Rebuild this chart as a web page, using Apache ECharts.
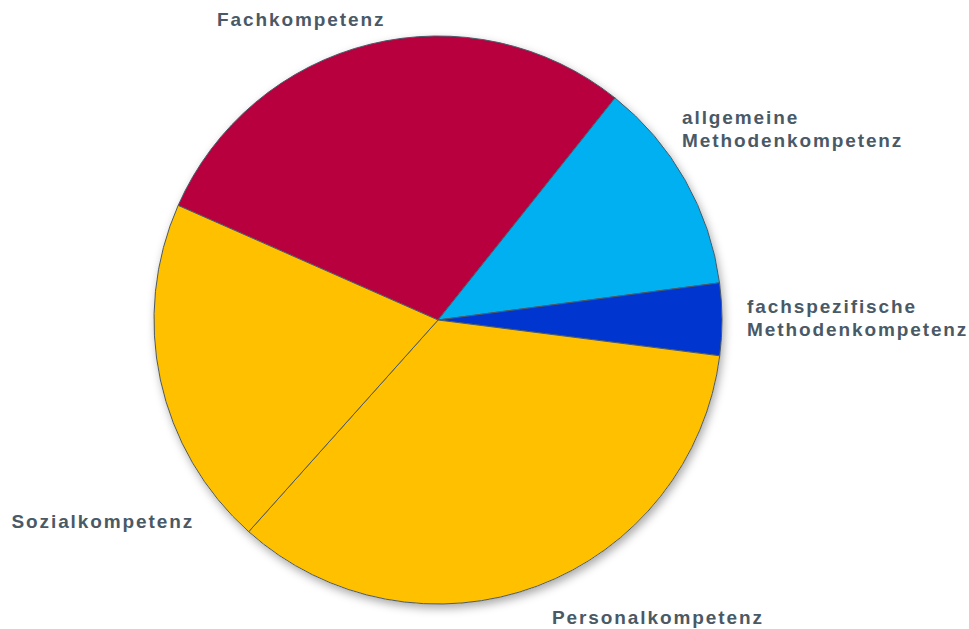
<!DOCTYPE html>
<html>
<head>
<meta charset="utf-8">
<script src="https://cdn.jsdelivr.net/npm/echarts@6/dist/echarts.min.js"></script>
<style>
html,body{margin:0;padding:0;background:#fff;}
#c{width:969px;height:629px;}
#c text{letter-spacing:1.9px;}
</style>
</head>
<body>
<div id="c"></div>
<script>
const categories = ['Fachkompetenz', 'allgemeine\nMethodenkompetenz', 'fachspezifische\nMethodenkompetenz', 'Personalkompetenz', 'Sozialkompetenz'];
const values = [29.1, 12.2, 4.1, 34.6, 20.0];
const colors = ['#B8003F', '#00B0F0', '#0036CF', '#FFC000', '#FFC000'];

const labelSpots = [
  {x: 217, y: 19.5},
  {x: 682, y: 129},
  {x: 747, y: 318},
  {x: 552, y: 617},
  {x: 11.5, y: 521.5}
];

const chart = echarts.init(document.getElementById('c'), null, {renderer: 'svg'});
chart.setOption({
  animation: false,
  series: [
    {
      type: 'pie',
      silent: true,
      center: [438, 320],
      radius: [0, 284],
      label: {show: false},
      labelLine: {show: false},
      itemStyle: {color: '#ffffff', shadowBlur: 10, shadowOffsetX: 2, shadowOffsetY: 4, shadowColor: 'rgba(0,0,0,0.35)'},
      data: [{value: 1, name: ''}],
      z: 1
    },
    {
      type: 'pie',
      center: [438, 320],
      radius: [0, 284],
      startAngle: 156.2,
      clockwise: true,
      z: 2,
      itemStyle: {borderColor: '#4B5A68', borderWidth: 1},
      label: {
        show: true,
        position: 'outside',
        fontFamily: 'Liberation Sans, Arial, sans-serif',
        fontWeight: 'bold',
        fontSize: 19,
        lineHeight: 23,
        color: '#4A5966',
        align: 'left',
        overflow: 'none'
      },
      labelLine: {show: false},
      labelLayout: function (p) {
        const s = labelSpots[p.dataIndex];
        return {x: s.x, y: s.y, align: 'left', verticalAlign: 'middle'};
      },
      emphasis: {disabled: true},
      data: categories.map((n, i) => ({name: n, value: values[i], itemStyle: {color: colors[i]}}))
    }
  ]
});
</script>
</body>
</html>
